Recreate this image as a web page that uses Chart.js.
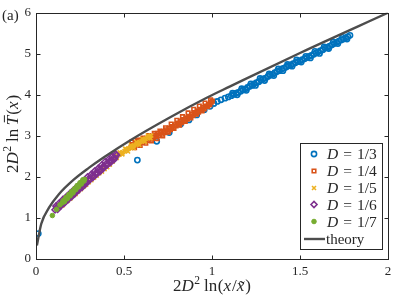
<!DOCTYPE html>
<html>
<head>
<meta charset="utf-8">
<script src="https://cdn.jsdelivr.net/npm/chart.js@4.4.1/dist/chart.umd.min.js"></script>
<style>
  html, body { margin: 0; padding: 0; background: #fff; }
  #wrap { width: 399px; height: 298px; position: relative; }
</style>
</head>
<body>
<div id="wrap"><canvas id="chart"></canvas></div>
<script>
// Series labels (D values)
const seriesLabels = ['1/3', '1/4', '1/5', '1/6', '1/7'];

// D = 1/3
const d3x = [0.013, 0.576, 0.686, 0.757, 0.822, 0.869, 0.913, 0.956, 0.989, 1.011, 1.030, 1.051, 1.074, 1.093,
  1.110, 1.124, 1.137, 1.150, 1.163, 1.176, 1.189, 1.202, 1.215, 1.228, 1.240, 1.253, 1.266, 1.279, 1.292,
  1.305, 1.318, 1.331, 1.344, 1.357, 1.370, 1.383, 1.396, 1.409, 1.422, 1.435, 1.448, 1.461, 1.474, 1.487,
  1.500, 1.513, 1.526, 1.539, 1.552, 1.565, 1.578, 1.591, 1.604, 1.617, 1.630, 1.643, 1.656, 1.669, 1.682,
  1.695, 1.708, 1.721, 1.734, 1.747, 1.760, 1.772, 1.784,
  1.117, 1.143, 1.169, 1.195, 1.221, 1.247, 1.273, 1.299, 1.325, 1.351, 1.377, 1.403, 1.429,
  1.455, 1.481, 1.507, 1.533, 1.559, 1.585, 1.611, 1.637, 1.663, 1.689, 1.715, 1.741, 1.767];
const d3y = [0.62, 2.41, 2.87, 3.08, 3.29, 3.39, 3.51, 3.64, 3.72, 3.79, 3.84, 3.88, 3.92, 3.95,
  3.98, 4.01, 4.04, 4.06, 4.09, 4.12, 4.14, 4.18, 4.21, 4.23, 4.27, 4.30, 4.32, 4.36, 4.39,
  4.41, 4.45, 4.48, 4.50, 4.54, 4.57, 4.59, 4.63, 4.65, 4.68, 4.71, 4.73, 4.76, 4.78, 4.81,
  4.83, 4.86, 4.88, 4.91, 4.94, 4.96, 4.99, 5.02, 5.05, 5.08, 5.10, 5.14, 5.16, 5.19, 5.22,
  5.25, 5.28, 5.31, 5.34, 5.36, 5.39, 5.42, 5.45,
  4.04, 4.00, 4.15, 4.11, 4.27, 4.23, 4.40, 4.35, 4.51, 4.47, 4.63, 4.59, 4.74,
  4.70, 4.85, 4.80, 4.94, 4.90, 5.06, 5.01, 5.17, 5.13, 5.29, 5.25, 5.40, 5.36];

// D = 1/4
const d4x = [0.540, 0.548, 0.556, 0.564, 0.572, 0.580, 0.588, 0.596, 0.604, 0.612, 0.620, 0.628, 0.636, 0.644,
  0.652, 0.660, 0.668, 0.676, 0.684, 0.692, 0.700, 0.708, 0.716, 0.724, 0.732, 0.740, 0.748, 0.756, 0.764,
  0.772, 0.780, 0.788, 0.796, 0.804, 0.812, 0.820, 0.828, 0.836, 0.844, 0.852, 0.860, 0.868, 0.876, 0.884,
  0.892, 0.900, 0.908, 0.916, 0.924, 0.932, 0.940, 0.948, 0.956, 0.964, 0.972, 0.980, 0.988, 0.996, 1.002,
  0.544, 0.560, 0.576, 0.592, 0.608, 0.624, 0.640, 0.656, 0.672, 0.688, 0.704, 0.720, 0.736, 0.752,
  0.768, 0.784, 0.800, 0.816, 0.832, 0.848, 0.864, 0.880, 0.896, 0.912, 0.928, 0.944, 0.960, 0.976, 0.992];
const d4y = [2.72, 2.79, 2.75, 2.82, 2.78, 2.86, 2.81, 2.89, 2.84, 2.91, 2.87, 2.94, 2.89, 2.97,
  2.92, 2.99, 2.94, 3.02, 2.98, 3.06, 3.01, 3.08, 3.04, 3.11, 3.08, 3.15, 3.11, 3.19, 3.15,
  3.23, 3.20, 3.27, 3.24, 3.31, 3.28, 3.36, 3.32, 3.40, 3.36, 3.44, 3.41, 3.48, 3.45, 3.53,
  3.49, 3.57, 3.54, 3.61, 3.58, 3.65, 3.62, 3.69, 3.66, 3.73, 3.71, 3.77, 3.76, 3.82, 3.85,
  2.85, 2.71, 2.90, 2.77, 2.95, 2.82, 3.01, 2.88, 3.06, 2.93, 3.12, 3.00, 3.20, 3.09,
  3.29, 3.18, 3.38, 3.26, 3.47, 3.35, 3.56, 3.44, 3.65, 3.53, 3.73, 3.61, 3.80, 3.72, 3.88];

// D = 1/5
const d5x = [0.150, 0.165, 0.180, 0.195, 0.210, 0.225, 0.240, 0.255, 0.270, 0.285, 0.300, 0.315, 0.330, 0.345,
  0.360, 0.375, 0.390, 0.405, 0.420, 0.435, 0.445, 0.455, 0.463, 0.471, 0.479, 0.487, 0.495, 0.503, 0.511,
  0.519, 0.527, 0.535, 0.543, 0.551, 0.559, 0.567, 0.575, 0.583, 0.591, 0.599, 0.607, 0.615, 0.623, 0.631,
  0.639, 0.647, 0.655,
  0.459, 0.475, 0.491, 0.507, 0.523, 0.539, 0.555, 0.571, 0.587, 0.603, 0.619, 0.635, 0.651];
const d5y = [1.30, 1.38, 1.42, 1.47, 1.55, 1.58, 1.65, 1.70, 1.76, 1.81, 1.87, 1.92, 1.98, 2.03,
  2.09, 2.13, 2.19, 2.24, 2.30, 2.37, 2.44, 2.49, 2.52, 2.54, 2.56, 2.59, 2.60, 2.63, 2.65,
  2.67, 2.69, 2.71, 2.73, 2.75, 2.77, 2.79, 2.81, 2.83, 2.85, 2.87, 2.89, 2.91, 2.93, 2.95,
  2.97, 2.99, 3.01,
  2.46, 2.60, 2.55, 2.69, 2.62, 2.77, 2.70, 2.85, 2.78, 2.93, 2.86, 3.01, 2.94];

// D = 1/6
const d6x = [0.108, 0.118, 0.128, 0.138, 0.148, 0.158, 0.168, 0.178, 0.188, 0.198, 0.208, 0.218, 0.228, 0.238,
  0.248, 0.258, 0.268, 0.278, 0.288, 0.298, 0.308, 0.318, 0.328, 0.338, 0.348, 0.358, 0.368, 0.378, 0.388,
  0.398, 0.408, 0.418, 0.428, 0.438, 0.448, 0.458,
  0.113, 0.123, 0.133, 0.143, 0.153, 0.163, 0.173, 0.183, 0.193, 0.203, 0.213, 0.223, 0.233, 0.243,
  0.253, 0.263, 0.273, 0.283, 0.293, 0.303, 0.313, 0.323, 0.333, 0.343, 0.353, 0.363, 0.373, 0.383,
  0.393, 0.403, 0.413, 0.423, 0.433, 0.443, 0.453];
const d6y = [1.20, 1.26, 1.28, 1.34, 1.35, 1.42, 1.43, 1.50, 1.50, 1.58, 1.57, 1.65, 1.65, 1.73,
  1.72, 1.80, 1.79, 1.87, 1.87, 1.95, 1.94, 2.02, 2.01, 2.09, 2.09, 2.17, 2.16, 2.24, 2.24,
  2.32, 2.31, 2.39, 2.39, 2.46, 2.46, 2.53,
  1.29, 1.21, 1.37, 1.30, 1.45, 1.37, 1.52, 1.45, 1.60, 1.52, 1.68, 1.60, 1.76, 1.68,
  1.83, 1.75, 1.91, 1.83, 2.00, 1.92, 2.06, 1.99, 2.14, 2.06, 2.21, 2.13, 2.29, 2.21,
  2.37, 2.29, 2.43, 2.35, 2.50, 2.42, 2.56];

// D = 1/7
const d7x = [0.093, 0.117, 0.136, 0.150, 0.158, 0.166, 0.174, 0.182, 0.190, 0.198, 0.206, 0.214, 0.222,
  0.230, 0.238, 0.246, 0.254, 0.262, 0.270, 0.276,
  0.154, 0.162, 0.170, 0.178, 0.186, 0.194, 0.202, 0.210, 0.218, 0.226, 0.234, 0.242, 0.250, 0.258,
  0.266, 0.272];
const d7y = [1.06, 1.21, 1.32, 1.37, 1.41, 1.45, 1.48, 1.52, 1.55, 1.59, 1.63, 1.66, 1.70,
  1.74, 1.77, 1.81, 1.85, 1.88, 1.92, 1.94,
  1.42, 1.40, 1.50, 1.47, 1.57, 1.54, 1.64, 1.61, 1.71, 1.69, 1.79, 1.76, 1.86, 1.83,
  1.93, 1.90];

// theory curve
const theoryX = [0.005, 0.03, 0.074, 0.13, 0.216, 0.30, 0.386, 0.534, 0.76, 0.97, 1.10, 1.50, 2.00];
const theoryY = [0.33, 0.86, 1.25, 1.58, 1.94, 2.22, 2.48, 2.89, 3.45, 3.93, 4.20, 5.02, 6.00];

const xTickValues = [0, 0.5, 1, 1.5, 2];
const yTickValues = [0, 1, 2, 3, 4, 5, 6];

const SERIF = '"Liberation Serif", "DejaVu Serif", serif';
const INK = '#262626';
const THEORY_COLOR = '#4d4d4d';

const pts = (xs, ys) => xs.map((x, i) => ({ x, y: ys[i] }));

const MARKERS = [
  { color: '#0072BD', pointStyle: 'circle', radius: 2.6, width: 1.6, filled: false },
  { color: '#D95319', pointStyle: 'rect', radius: 2.5, width: 1.6, filled: false },
  { color: '#EDB120', pointStyle: 'crossRot', radius: 2.8, width: 1.6, filled: false },
  { color: '#7E2F8E', pointStyle: 'rectRot', radius: 3.0, width: 1.6, filled: false },
  { color: '#77AC30', pointStyle: 'circle', radius: 2.3, width: 1, filled: true },
];

const seriesData = [pts(d3x, d3y), pts(d4x, d4y), pts(d5x, d5y), pts(d6x, d6y), pts(d7x, d7y)];

const datasets = seriesData.map((data, i) => {
  const m = MARKERS[i];
  return {
    type: 'scatter',
    label: 'D = ' + seriesLabels[i],
    data,
    pointStyle: m.pointStyle,
    pointRadius: m.radius,
    pointBorderWidth: m.width,
    pointBorderColor: m.color,
    pointBackgroundColor: m.filled ? m.color : 'rgba(0,0,0,0)',
    showLine: false,
    order: 5 - i,
  };
});

datasets.push({
  type: 'line',
  label: 'theory',
  data: pts(theoryX, theoryY),
  borderColor: THEORY_COLOR,
  borderWidth: 2.4,
  pointRadius: 0,
  cubicInterpolationMode: 'monotone',
  fill: false,
  order: 0,
});

/** Draw a run of text pieces with mixed italic / superscript styling */
function drawMixed(ctx, parts, x, y, size, align) {
  const fontFor = p => `${p.it ? 'italic ' : ''}${p.sup ? size * 0.68 : size}px ${SERIF}`;
  let total = 0;
  const widths = parts.map(p => {
    ctx.font = fontFor(p);
    const w = ctx.measureText(p.t).width + (p.gap || 0);
    total += w;
    return w;
  });
  let cx = align === 'center' ? x - total / 2 : x;
  parts.forEach((p, i) => {
    ctx.font = fontFor(p);
    ctx.fillText(p.t, cx, p.sup ? y - size * 0.42 : y);
    if (p.bar) {
      // overbar (T-bar)
      const w = widths[i] - (p.gap || 0);
      ctx.save();
      ctx.strokeStyle = ctx.fillStyle;
      ctx.lineWidth = 1;
      ctx.beginPath();
      ctx.moveTo(cx + w * 0.3, y - size * 0.8);
      ctx.lineTo(cx + w * 1.05, y - size * 0.8);
      ctx.stroke();
      ctx.restore();
    }
    cx += widths[i];
  });
}

const framePlugin = {
  id: 'frame',
  afterDatasetsDraw(chart) {
    const { ctx, chartArea: a, scales } = chart;
    ctx.save();
    ctx.strokeStyle = INK;
    ctx.lineWidth = 1;
    const L = Math.round(a.left) + 0.5, R = Math.round(a.right) + 0.5;
    const T = Math.round(a.top) + 0.5, B = Math.round(a.bottom) + 0.5;
    ctx.strokeRect(L, T, R - L, B - T);
    const tick = 4;
    ctx.beginPath();
    xTickValues.slice(1, -1).forEach(v => {
      const px = Math.round(scales.x.getPixelForValue(v)) + 0.5;
      ctx.moveTo(px, B); ctx.lineTo(px, B - tick);
      ctx.moveTo(px, T); ctx.lineTo(px, T + tick);
    });
    yTickValues.slice(1, -1).forEach(v => {
      const py = Math.round(scales.y.getPixelForValue(v)) + 0.5;
      ctx.moveTo(L, py); ctx.lineTo(L + tick, py);
      ctx.moveTo(R, py); ctx.lineTo(R - tick, py);
    });
    ctx.stroke();
    ctx.restore();
  },
  afterDraw(chart) {
    const { ctx, chartArea: a } = chart;
    ctx.save();
    ctx.fillStyle = INK;
    ctx.textBaseline = 'alphabetic';
    ctx.textAlign = 'left';

    // panel tag
    ctx.font = `15px ${SERIF}`;
    ctx.fillText('(a)', 2, 20);

    // x axis label: 2D² ln(x/x̃)
    drawMixed(ctx, [
      { t: '2' }, { t: 'D', it: true, gap: 0.5 }, { t: '2', sup: true, gap: 4 },
      { t: 'ln', gap: 0.5 }, { t: '(' }, { t: 'x', it: true, gap: 1 }, { t: '/' }, { t: 'x\u0303', it: true, gap: 1 }, { t: ')' },
    ], (a.left + a.right) / 2, 291, 17, 'center');

    // y axis label: 2D² ln T̄(x)
    ctx.save();
    ctx.translate(18, (a.top + a.bottom) / 2 - 2);
    ctx.rotate(-Math.PI / 2);
    drawMixed(ctx, [
      { t: '2' }, { t: 'D', it: true, gap: 0.5 }, { t: '2', sup: true, gap: 4 },
      { t: 'ln', gap: 3.5 }, { t: 'T', it: true, bar: true, gap: 1 }, { t: '(' }, { t: 'x', it: true, gap: 1 }, { t: ')' },
    ], 0, 0, 17, 'center');
    ctx.restore();

    // legend
    const box = { x: 300.5, y: 143.5, w: 82, h: 106 };
    ctx.fillStyle = '#fff';
    ctx.fillRect(box.x, box.y, box.w, box.h);
    ctx.strokeStyle = INK;
    ctx.lineWidth = 1;
    ctx.strokeRect(box.x, box.y, box.w, box.h);
    const rowY = [154, 171, 188, 204.5, 221.5, 239];
    const drawPoint = Chart.helpers && Chart.helpers.drawPoint;
    MARKERS.forEach((m, i) => {
      const y = rowY[i];
      ctx.strokeStyle = m.color;
      ctx.fillStyle = m.filled ? m.color : 'rgba(0,0,0,0)';
      ctx.lineWidth = m.width;
      if (drawPoint) {
        drawPoint(ctx, { pointStyle: m.pointStyle, radius: m.radius, rotation: 0, borderWidth: m.width }, 314, y);
      }
      ctx.fillStyle = INK;
      drawMixed(ctx, [
        { t: 'D', it: true, gap: 5 }, { t: '=', gap: 5 }, { t: seriesLabels[i] },
      ], 327, y + 5, 15.5, 'left');
    });
    ctx.strokeStyle = THEORY_COLOR;
    ctx.lineWidth = 2.4;
    ctx.beginPath();
    ctx.moveTo(304, rowY[5]);
    ctx.lineTo(325, rowY[5]);
    ctx.stroke();
    ctx.fillStyle = INK;
    ctx.font = `15px ${SERIF}`;
    ctx.fillText('theory', 326, rowY[5] + 5);
    ctx.restore();
  },
};

new Chart(document.getElementById('chart'), {
  data: { datasets },
  options: {
    responsive: true,
    maintainAspectRatio: false,
    animation: false,
    events: [],
    layout: { padding: { top: 8, right: 11, left: 0, bottom: 0 } },
    plugins: { legend: { display: false }, tooltip: { enabled: false } },
    scales: {
      x: {
        type: 'linear',
        min: 0,
        max: 2,
        afterBuildTicks: s => { s.ticks = xTickValues.map(value => ({ value })); },
        afterFit: s => { s.height = 39; },
        grid: { display: false, drawTicks: false },
        border: { display: false },
        ticks: { color: INK, padding: 5, font: { family: SERIF, size: 13 }, maxRotation: 0, callback: v => String(v) },
      },
      y: {
        type: 'linear',
        min: 0,
        max: 6,
        afterBuildTicks: s => { s.ticks = yTickValues.map(value => ({ value })); },
        afterFit: s => { s.width = 36; },
        grid: { display: false, drawTicks: false },
        border: { display: false },
        ticks: { color: INK, padding: 5, font: { family: SERIF, size: 13 }, callback: v => String(v) },
      },
    },
  },
  plugins: [framePlugin],
});
</script>
</body>
</html>
